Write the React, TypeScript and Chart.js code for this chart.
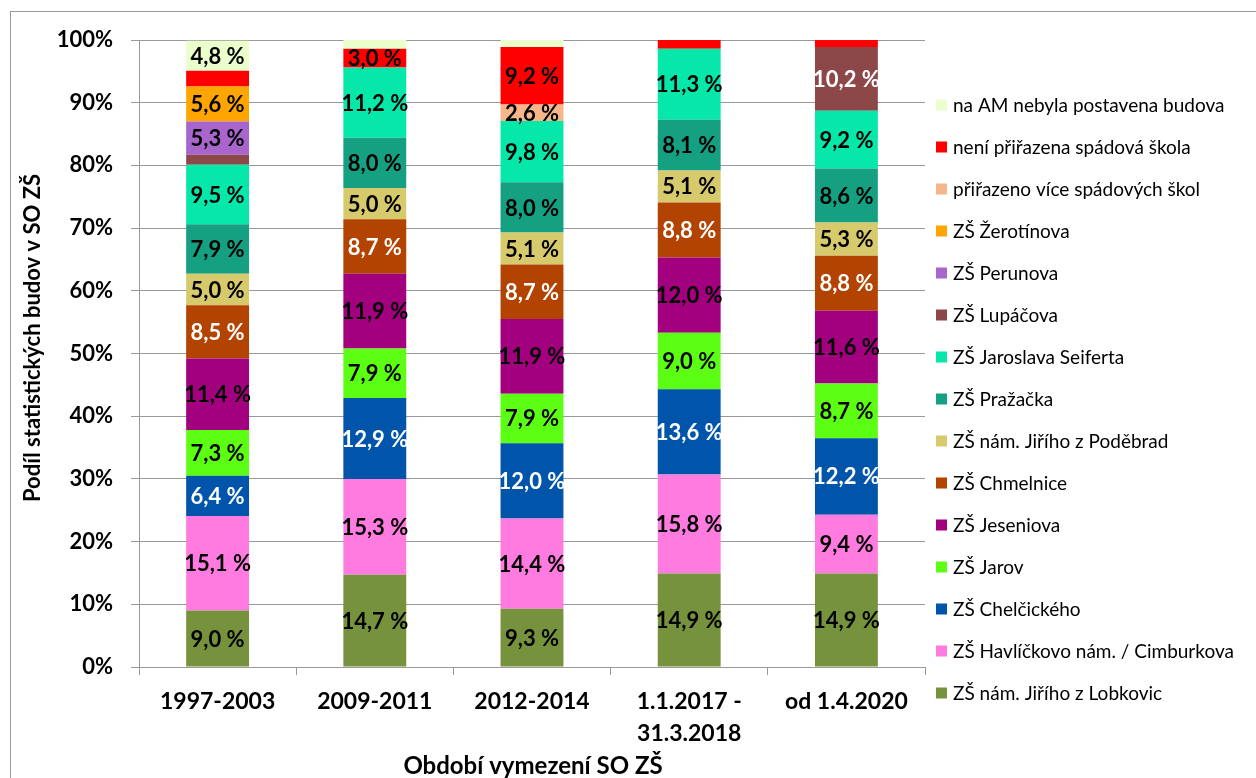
import React, { useEffect, useRef } from "react";
import { Chart, registerables } from "chart.js";

Chart.register(...registerables);

const categories: (string | string[])[] = [
  "1997-2003",
  "2009-2011",
  "2012-2014",
  ["1.1.2017 -", "31.3.2018"],
  "od 1.4.2020",
];

const seriesNames = [
  "ZŠ nám. Jiřího z Lobkovic",
  "ZŠ Havlíčkovo nám. / Cimburkova",
  "ZŠ Chelčického",
  "ZŠ Jarov",
  "ZŠ Jeseniova",
  "ZŠ Chmelnice",
  "ZŠ nám. Jiřího z Poděbrad",
  "ZŠ Pražačka",
  "ZŠ Jaroslava Seiferta",
  "ZŠ Lupáčova",
  "ZŠ Perunova",
  "ZŠ Žerotínova",
  "přiřazeno více spádových škol",
  "není přiřazena spádová škola",
  "na AM nebyla postavena budova",
];

const lobkovic = [9.0, 14.7, 9.3, 14.9, 14.9];
const havlickovo = [15.1, 15.3, 14.4, 15.8, 9.4];
const chelcickeho = [6.4, 12.9, 12.0, 13.6, 12.2];
const jarov = [7.3, 7.9, 7.9, 9.0, 8.7];
const jeseniova = [11.4, 11.9, 11.9, 12.0, 11.6];
const chmelnice = [8.5, 8.7, 8.7, 8.8, 8.8];
const podebrad = [5.0, 5.0, 5.1, 5.1, 5.3];
const prazacka = [7.9, 8.0, 8.0, 8.1, 8.6];
const seiferta = [9.5, 11.2, 9.8, 11.3, 9.2];
const lupacova = [1.6, 0, 0, 0, 10.2];
const perunova = [5.3, 0, 0, 0, 0];
const zerotinova = [5.6, 0, 0, 0, 0];
const vicePrirazeno = [0, 0, 2.6, 0, 0];
const nePrirazeno = [2.5, 3.0, 9.2, 1.4, 1.1];
const nepostavena = [4.8, 1.4, 1.1, 0, 0];

const seriesValues = [
  lobkovic, havlickovo, chelcickeho, jarov, jeseniova, chmelnice, podebrad,
  prazacka, seiferta, lupacova, perunova, zerotinova, vicePrirazeno, nePrirazeno, nepostavena,
];

const yTicks = [0, 10, 20, 30, 40, 50, 60, 70, 80, 90, 100];
const labelThreshold = 2.6;

const seriesColors = [
  "#76923C", "#FF7BDF", "#0055AA", "#5CFF14", "#A3007F", "#B24300", "#D7CA6C",
  "#15A082", "#05E8AA", "#8C4848", "#A865CC", "#FFA500", "#F7B68A", "#FF0000", "#EBFFCC",
];
const labelTextColors = [
  "#000", "#000", "#fff", "#000", "#000", "#fff", "#000",
  "#000", "#000", "#fff", "#000", "#000", "#000", "#000", "#000",
];

const yTitle = "Podíl statistických budov v SO ZŠ";
const xTitle = "Období vymezení SO ZŠ";

const FONT = "Lato, 'DejaVu Sans', sans-serif";

const decoPlugin = {
  id: "deco",
  afterDatasetsDraw(chart: any) {
    const ctx = chart.ctx;
    ctx.save();
    ctx.font = `bold 22px ${FONT}`;
    ctx.textAlign = "center";
    ctx.textBaseline = "middle";
    chart.data.datasets.forEach((ds: any, di: number) => {
      const meta = chart.getDatasetMeta(di);
      meta.data.forEach((el: any, i: number) => {
        const v = ds.data[i];
        if (v < labelThreshold) return;
        ctx.fillStyle = labelTextColors[di];
        const txt = v.toFixed(1).replace(".", ",") + " %";
        ctx.fillText(txt, el.x, (el.y + el.base) / 2 + 1);
      });
    });
    ctx.restore();
  },
  afterDraw(chart: any) {
    const ctx = chart.ctx;
    ctx.save();
    ctx.fillStyle = "#000";
    ctx.font = `bold 22px ${FONT}`;
    ctx.textAlign = "center";
    ctx.textBaseline = "middle";
    ctx.save();
    ctx.translate(33, 338);
    ctx.rotate(-Math.PI / 2);
    ctx.fillText(yTitle, 0, 0);
    ctx.restore();
    ctx.font = `bold 24px ${FONT}`;
    ctx.fillText(xTitle, 533, 766);
    // legend
    ctx.font = `19px ${FONT}`;
    ctx.textAlign = "left";
    const n = chart.data.datasets.length;
    for (let k = 0; k < n; k++) {
      const di = n - 1 - k;
      const yc = 105 + k * 42;
      ctx.fillStyle = seriesColors[di];
      ctx.fillRect(936, yc - 5.5, 11, 11);
      ctx.fillStyle = "#000";
      ctx.fillText(chart.data.datasets[di].label, 953, yc + 1);
    }
    ctx.restore();
  },
};

export default function App() {
  const ref = useRef<HTMLCanvasElement | null>(null);
  useEffect(() => {
    if (!ref.current) return;
    Chart.defaults.font.family = FONT;
    const chart = new Chart(ref.current, {
      type: "bar",
      data: {
        labels: categories as any,
        datasets: seriesNames.map((name, i) => ({
          label: name,
          data: seriesValues[i],
          backgroundColor: seriesColors[i],
          borderWidth: 0,
          categoryPercentage: 0.8,
          barPercentage: 0.5,
        })),
      },
      options: {
        animation: false,
        responsive: false,
        maintainAspectRatio: false,
        layout: { padding: { left: 12, top: 40, right: 331, bottom: 31 } },
        plugins: { legend: { display: false }, tooltip: { enabled: false } },
        scales: {
          x: {
            stacked: true,
            offset: true,
            grid: { drawOnChartArea: false, drawTicks: true, tickLength: 8, color: "#999" },
            border: { color: "#999" },
            ticks: {
              color: "#000",
              font: { weight: "bold", size: 23, lineHeight: 1.4 },
              padding: 10,
              maxRotation: 0,
              autoSkip: false,
            },
            afterFit: (s: any) => { s.height = 80; },
          },
          y: {
            stacked: true,
            min: 0,
            max: 100,
            afterBuildTicks: (s: any) => { s.ticks = yTicks.map((v) => ({ value: v })); },
            grid: { color: "#999", tickLength: 8 },
            border: { color: "#999" },
            ticks: {
              color: "#000",
              font: { weight: "bold", size: 22 },
              padding: 18,
              callback: (v: any) => v + "%",
            },
            afterFit: (s: any) => { s.width = 127; },
          },
        },
      },
      plugins: [decoPlugin],
    });
    return () => chart.destroy();
  }, []);

  return (
    <div style={{ position: "fixed", left: 0, top: 0, width: 1256, height: 778, overflow: "hidden", background: "#fff" }}>
      <div style={{ position: "absolute", left: 10, top: 11, width: 1400, height: 900, borderTop: "1px solid #999", borderLeft: "1px solid #999" }} />
      <canvas ref={ref} width={1256} height={778} style={{ position: "absolute", left: 0, top: 0 }} />
    </div>
  );
}
